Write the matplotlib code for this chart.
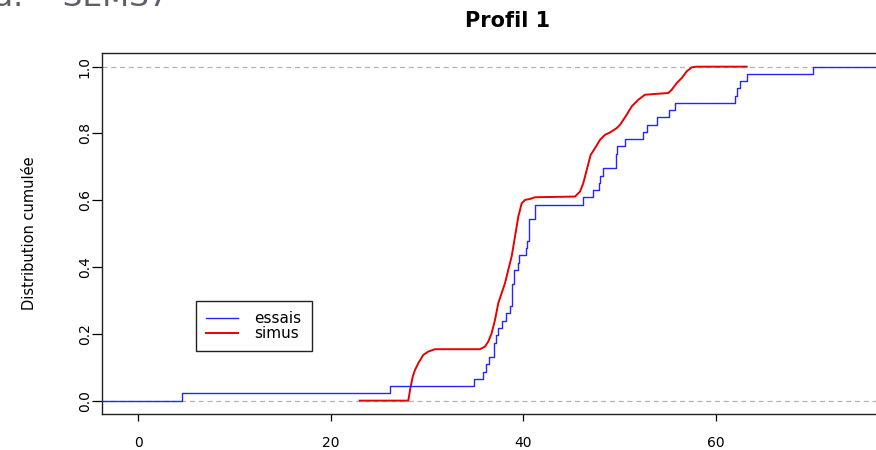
import matplotlib
matplotlib.use("Agg")
import matplotlib.pyplot as plt

# Empirical CDF of the test measurements: jump positions and level reached after each jump
essais_x = [4.5, 26.2, 34.9, 35.8, 36.1, 36.4, 37.0, 37.2, 37.4, 37.75, 38.2, 38.6,
            38.8, 39.0, 39.4, 39.55, 40.25, 40.42, 40.56, 41.2, 46.24, 47.28, 47.87,
            47.97, 48.3, 49.63, 49.77, 50.57, 52.47, 52.82, 53.93, 55.17, 55.76,
            62.0, 62.24, 62.5, 63.2, 70.07]
essais_F = [0.022, 0.043, 0.065, 0.087, 0.109, 0.130, 0.174, 0.196, 0.217, 0.239, 0.261, 0.283,
            0.348, 0.391, 0.413, 0.435, 0.457, 0.478, 0.543, 0.587, 0.609, 0.630, 0.652,
            0.674, 0.696, 0.739, 0.761, 0.783, 0.804, 0.826, 0.848, 0.870, 0.891,
            0.913, 0.935, 0.957, 0.978, 1.0]

# Empirical CDF of the simulations (dense sample, drawn as a continuous line)
simus_x = [23.0, 28.05, 28.23, 28.51, 28.75, 29.09, 29.61, 30.13, 30.83, 35.50, 36.02,
           36.36, 36.71, 37.06, 37.40, 37.75, 38.10, 38.44, 38.79, 39.14, 39.48, 39.83,
           40.18, 40.70, 41.21, 45.37, 45.89, 46.23, 46.59, 47.0, 47.45, 47.97, 48.49,
           49.0, 49.70, 50.05, 50.74, 51.26, 51.95, 52.64, 54.03, 55.06, 55.42, 55.94,
           56.46, 56.98, 57.50, 58.0, 63.2]
simus_F = [0.0, 0.0, 0.032, 0.072, 0.092, 0.112, 0.137, 0.147, 0.154, 0.154, 0.162,
           0.177, 0.202, 0.242, 0.292, 0.322, 0.352, 0.392, 0.432, 0.492, 0.551, 0.591,
           0.601, 0.604, 0.609, 0.611, 0.626, 0.651, 0.691, 0.736, 0.756, 0.781, 0.796,
           0.803, 0.816, 0.826, 0.856, 0.881, 0.901, 0.916, 0.919, 0.921, 0.931, 0.951,
           0.966, 0.986, 0.998, 1.0, 1.0]

x_ticks = [0, 20, 40, 60]
y_ticks = [0.0, 0.2, 0.4, 0.6, 0.8, 1.0]
x_lo, x_hi = -3.74, 80.38
y_lo, y_hi = -0.04, 1.04

W, H = 876, 450
fig = plt.figure(figsize=(W / 100, H / 100), dpi=100)
ax = fig.add_axes([102.3 / W, 36 / H, (912 - 102.3) / W, (414 - 53.3) / H])
ax.set_xlim(x_lo, x_hi)
ax.set_ylim(y_lo, y_hi)

# reference levels 0 and 1
for lvl in (0.0, 1.0):
    ax.axhline(lvl, color="#b3b3b3", lw=0.9, dashes=(4, 3), zorder=1)

ax.step([x_lo] + essais_x + [x_hi], [0.0] + essais_F + [1.0], where="post",
        color="#2525ff", lw=1.0, label="essais", zorder=3)
ax.plot(simus_x, simus_F, color="#e80000", lw=1.4, label="simus", zorder=2)

for s in ax.spines.values():
    s.set_linewidth(1.0)
    s.set_color("#222222")

ax.set_xticks(x_ticks)
ax.set_yticks(y_ticks)
ax.set_yticklabels([f"{v:.1f}" for v in y_ticks], rotation=90, va="center")
ax.tick_params(axis="x", direction="out", length=5, width=0.9, pad=11, labelsize=10)
ax.tick_params(axis="y", direction="out", length=7, width=0.9, pad=0.5, labelsize=10)

ax.set_title("Profil 1", fontsize=15, fontweight="bold", pad=19)

ax_w_px = 912 - 102.3
ax.set_ylabel("Distribution cumulée", fontsize=10.5)
ax.yaxis.set_label_coords((37 - 102.3) / ax_w_px, 0.5)

leg = ax.legend(loc="upper left", bbox_to_anchor=(195.7 / W, 1 - 301 / H),
                bbox_transform=fig.transFigure, borderaxespad=0, fontsize=11,
                fancybox=False, framealpha=1, edgecolor="#222222",
                handlelength=2.1, handletextpad=1.1, labelspacing=0.0,
                borderpad=0.65)
leg.get_frame().set_linewidth(1.0)

# heading of the page, mostly outside the canvas
fig.text(-6 / W, 1 - 6 / H, "a.    SEMS7", fontsize=22.5, color="#5a5f6a",
         ha="left", va="baseline")

fig.savefig("out.png", dpi=100)
